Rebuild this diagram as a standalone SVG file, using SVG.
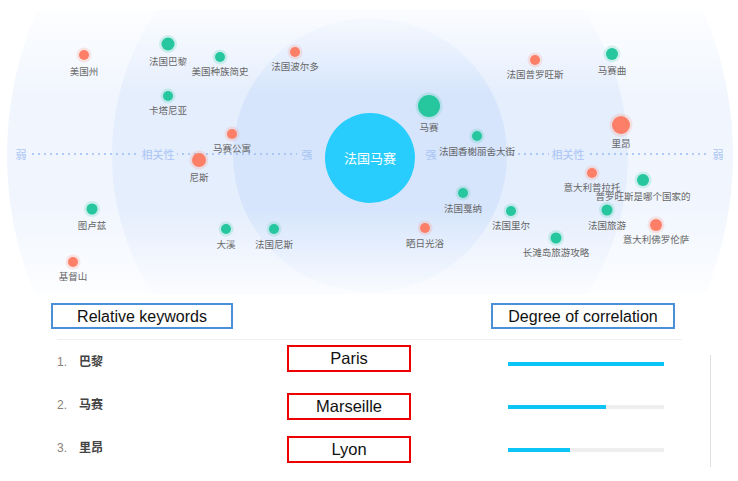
<svg xmlns="http://www.w3.org/2000/svg" width="738" height="481" viewBox="0 0 738 481">
<defs>
<clipPath id="bgclip"><rect x="0" y="10" width="738" height="284"/></clipPath>
<linearGradient id="fade" x1="0" y1="0" x2="0" y2="1">
<stop offset="0" stop-color="#fff" stop-opacity="0.85"/>
<stop offset="0.3" stop-color="#fff" stop-opacity="0"/>
<stop offset="0.7" stop-color="#fff" stop-opacity="0"/>
<stop offset="1" stop-color="#fff" stop-opacity="0.85"/>
</linearGradient>
<pattern id="dots" x="0" y="0" width="6" height="4" patternUnits="userSpaceOnUse">
<circle cx="3" cy="2" r="1.1" fill="#9fc0f5"/>
</pattern>
</defs>
<style>
.lbl{font-family:"Noto Sans CJK SC","Noto Sans",sans-serif;font-size:9.5px;fill:#666;text-anchor:middle}
.axis{font-family:"Noto Sans CJK SC","Noto Sans",sans-serif;font-size:11px;fill:#a8c4f4;text-anchor:middle}
.g{fill:#26c69f}.gh{fill:#26c69f;opacity:0.18}
.o{fill:#fd7f68}.oh{fill:#fd7f68;opacity:0.18}
.hdr{font-family:"Liberation Sans",Arial,sans-serif;font-size:16px;fill:#111;text-anchor:middle}
.box{fill:none;stroke:#4a90d9;stroke-width:2}
.rbox{fill:none;stroke:#ee0000;stroke-width:2}
.num{font-family:"Liberation Sans",Arial,sans-serif;font-size:12px;fill:#8a7f78}
.kw{font-family:"Noto Sans CJK SC",sans-serif;font-size:12px;fill:#444;font-weight:bold}
.en{font-family:"Liberation Sans",Arial,sans-serif;font-size:16.5px;fill:#111;text-anchor:middle}
.track{fill:#eeeeee}.bar{fill:#0cc4f5}
</style>
<g id="background" clip-path="url(#bgclip)">
<rect x="0" y="10" width="738" height="284" fill="#ffffff"/>
<circle cx="370" cy="155" r="363" fill="#f1f6fe"/>
<circle cx="370" cy="155" r="258" fill="#e5eefd"/>
<circle cx="370" cy="155" r="137" fill="#d6e5fc"/>
<rect x="0" y="10" width="738" height="284" fill="url(#fade)"/>
</g>
<g id="axis">
<rect x="30" y="153" width="108" height="4" fill="url(#dots)"/>
<rect x="177" y="153" width="120" height="4" fill="url(#dots)"/>
<rect x="441" y="153" width="108" height="4" fill="url(#dots)"/>
<rect x="588" y="153" width="120" height="4" fill="url(#dots)"/>
<text class="axis" x="21" y="159">弱</text>
<text class="axis" x="158" y="159">相关性</text>
<text class="axis" x="307" y="159">强</text>
<text class="axis" x="431" y="159">强</text>
<text class="axis" x="568" y="159">相关性</text>
<text class="axis" x="718" y="159">弱</text>
</g>
<g id="connectors"></g>
<g id="center">
<circle cx="370" cy="158" r="45" fill="#29cdfd"/>
<text x="370" y="163" font-family="Noto Sans CJK SC, sans-serif" font-size="13" fill="#fff" text-anchor="middle">法国马赛</text>
</g>
<g id="n-meiguozhou"><circle class="oh" cx="84" cy="55" r="7.5"/><circle class="o" cx="84" cy="55" r="5"/><text class="lbl" x="84" y="75">美国州</text></g>
<g id="n-faguobali"><circle class="gh" cx="168" cy="44" r="9"/><circle class="g" cx="168" cy="44" r="6.5"/><text class="lbl" x="168" y="65">法国巴黎</text></g>
<g id="n-zhongzu"><circle class="gh" cx="220" cy="57" r="7.5"/><circle class="g" cx="220" cy="57" r="5"/><text class="lbl" x="220" y="75">美国种族简史</text></g>
<g id="n-boerduo"><circle class="oh" cx="295" cy="52" r="7.5"/><circle class="o" cx="295" cy="52" r="5"/><text class="lbl" x="295" y="70">法国波尔多</text></g>
<g id="n-katanniya"><circle class="gh" cx="168" cy="96" r="7.5"/><circle class="g" cx="168" cy="96" r="5"/><text class="lbl" x="168" y="114">卡塔尼亚</text></g>
<g id="n-gongyu"><circle class="oh" cx="232" cy="134" r="7.5"/><circle class="o" cx="232" cy="134" r="5"/><text class="lbl" x="232" y="152">马赛公寓</text></g>
<g id="n-nisi"><circle class="oh" cx="199" cy="160" r="9.5"/><circle class="o" cx="199" cy="160" r="7"/><text class="lbl" x="199" y="181">尼斯</text></g>
<g id="n-tuluzi"><circle class="gh" cx="92" cy="209" r="8"/><circle class="g" cx="92" cy="209" r="5.5"/><text class="lbl" x="92" y="229">图卢兹</text></g>
<g id="n-jidushan"><circle class="oh" cx="73" cy="262" r="7.5"/><circle class="o" cx="73" cy="262" r="5"/><text class="lbl" x="73" y="280">基督山</text></g>
<g id="n-daxi"><circle class="gh" cx="226" cy="229" r="7.5"/><circle class="g" cx="226" cy="229" r="5"/><text class="lbl" x="226" y="248">大溪</text></g>
<g id="n-faguonisi"><circle class="gh" cx="274" cy="229" r="7.5"/><circle class="g" cx="274" cy="229" r="5"/><text class="lbl" x="274" y="248">法国尼斯</text></g>
<g id="n-masai"><circle class="gh" cx="429" cy="106" r="13.5"/><circle class="g" cx="429" cy="106" r="11"/><text class="lbl" x="429" y="131">马赛</text></g>
<g id="n-xiangxie"><circle class="gh" cx="477" cy="136" r="7.5"/><circle class="g" cx="477" cy="136" r="5"/><text class="lbl" x="477" y="155">法国香榭丽舍大街</text></g>
<g id="n-puluowangsi"><circle class="oh" cx="535" cy="60" r="7.5"/><circle class="o" cx="535" cy="60" r="5"/><text class="lbl" x="535" y="78">法国普罗旺斯</text></g>
<g id="n-masaiqu"><circle class="gh" cx="612" cy="54" r="8.5"/><circle class="g" cx="612" cy="54" r="6"/><text class="lbl" x="612" y="74">马赛曲</text></g>
<g id="n-liang"><circle class="oh" cx="621" cy="125" r="11.5"/><circle class="o" cx="621" cy="125" r="9"/><text class="lbl" x="621" y="147">里昂</text></g>
<g id="n-xiana"><circle class="gh" cx="463" cy="193" r="7.5"/><circle class="g" cx="463" cy="193" r="5"/><text class="lbl" x="463" y="212">法国戛纳</text></g>
<g id="n-shairi"><circle class="oh" cx="425" cy="228" r="7.5"/><circle class="o" cx="425" cy="228" r="5"/><text class="lbl" x="425" y="247">晒日光浴</text></g>
<g id="n-lier"><circle class="gh" cx="511" cy="211" r="7.5"/><circle class="g" cx="511" cy="211" r="5"/><text class="lbl" x="511" y="229">法国里尔</text></g>
<g id="n-changtan"><circle class="gh" cx="556" cy="238" r="8"/><circle class="g" cx="556" cy="238" r="5.5"/><text class="lbl" x="556" y="256">长滩岛旅游攻略</text></g>
<g id="n-lvyou"><circle class="gh" cx="607" cy="210" r="8"/><circle class="g" cx="607" cy="210" r="5.5"/><text class="lbl" x="607" y="229">法国旅游</text></g>
<g id="n-pulatuo"><circle class="oh" cx="592" cy="173" r="7.5"/><circle class="o" cx="592" cy="173" r="5"/><text class="lbl" x="592" y="191">意大利普拉托</text></g>
<g id="n-guojia"><circle class="gh" cx="643" cy="180" r="8.5"/><circle class="g" cx="643" cy="180" r="6"/><text class="lbl" x="643" y="200">普罗旺斯是哪个国家的</text></g>
<g id="n-foluolunsa"><circle class="oh" cx="656" cy="225" r="8.5"/><circle class="o" cx="656" cy="225" r="6"/><text class="lbl" x="656" y="243">意大利佛罗伦萨</text></g>
<g id="table">
<rect class="box" x="52" y="304" width="180" height="24"/>
<text class="hdr" x="142" y="322">Relative keywords</text>
<rect class="box" x="492" y="304" width="182" height="24"/>
<text class="hdr" x="583" y="322">Degree of correlation</text>
<line x1="57" y1="339.5" x2="682" y2="339.5" stroke="#f0f0f0" stroke-width="1"/>
<line x1="710.5" y1="355" x2="710.5" y2="467" stroke="#e0e0e0" stroke-width="1"/>
<text class="num" x="57" y="366">1.</text><text class="kw" x="79" y="366">巴黎</text>
<text class="num" x="57" y="409">2.</text><text class="kw" x="79" y="409">马赛</text>
<text class="num" x="57" y="452">3.</text><text class="kw" x="79" y="452">里昂</text>
<rect class="rbox" x="288" y="346" width="122" height="25"/><text class="en" x="349" y="364">Paris</text>
<rect class="rbox" x="288" y="394" width="122" height="25"/><text class="en" x="349" y="412">Marseille</text>
<rect class="rbox" x="288" y="437" width="122" height="25"/><text class="en" x="349" y="455">Lyon</text>
<rect class="track" x="508" y="362" width="156" height="4"/><rect class="bar" x="508" y="362" width="156" height="4"/>
<rect class="track" x="508" y="405" width="156" height="4"/><rect class="bar" x="508" y="405" width="98" height="4"/>
<rect class="track" x="508" y="448" width="156" height="4"/><rect class="bar" x="508" y="448" width="62" height="4"/>
</g>
</svg>
